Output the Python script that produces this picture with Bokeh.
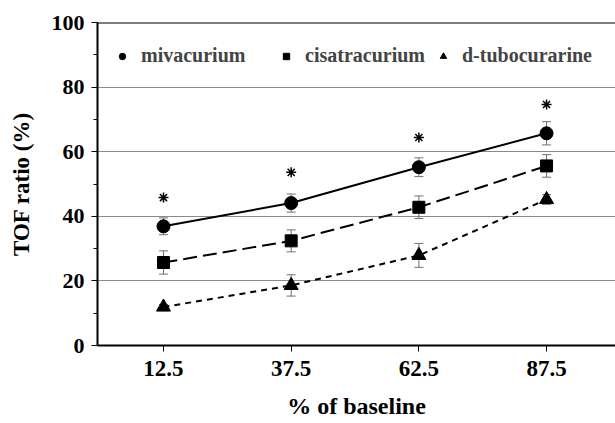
from bokeh.plotting import figure
from bokeh.models import (ColumnDataSource, Whisker, FixedTicker, Range1d, Legend,
                          LegendItem, Span)
from bokeh.embed import file_html
from bokeh.resources import INLINE

x_vals = [12.5, 37.5, 62.5, 87.5]
x_labels = ["12.5", "37.5", "62.5", "87.5"]

miv = [36.9, 44.1, 55.2, 65.7]
miv_err = [2.6, 2.8, 2.9, 3.6]
cis = [25.7, 32.4, 42.8, 55.6]
cis_err = [3.6, 3.4, 3.5, 3.5]
dtc = [11.9, 18.6, 27.9, 45.2]
dtc_err = [0.8, 3.3, 3.7, 1.5]
star_y = [45.8, 53.6, 64.4, 74.6]
series_names = ["mivacurium", "cisatracurium", "d-tubocurarine"]

FONT = "Liberation Serif"

p = figure(width=615, height=423, output_backend="svg", toolbar_location=None,
           x_range=Range1d(-0.42, 101.0), y_range=Range1d(0, 100),
           min_border_left=97, min_border_top=22, min_border_bottom=78,
           min_border_right=0)
p.outline_line_color = None
p.background_fill_color = "white"
p.border_fill_color = "white"

p.xgrid.grid_line_color = None
p.ygrid.ticker = FixedTicker(ticks=[20, 40, 60, 80])
p.ygrid.grid_line_color = "#8a8a8a"
p.ygrid.grid_line_width = 1

p.add_layout(Span(location=100, dimension="width", line_color="black", line_width=2))

p.xaxis.ticker = FixedTicker(ticks=x_vals)
p.xaxis.major_label_overrides = {v: l for v, l in zip(x_vals, x_labels)}
p.yaxis.ticker = FixedTicker(ticks=[0, 20, 40, 60, 80, 100],
                             minor_ticks=[10, 30, 50, 70, 90])
for ax in (p.xaxis, p.yaxis):
    ax.axis_line_width = 2
    ax.axis_line_color = "black"
    ax.major_tick_line_color = "black"
    ax.major_tick_in = 0
    ax.major_tick_out = 6
    ax.minor_tick_in = 0
    ax.minor_tick_out = 4
    ax.major_label_text_font = FONT
    ax.major_label_text_font_style = "bold"
    ax.major_label_text_color = "black"
    ax.axis_label_text_font = FONT
    ax.axis_label_text_font_style = "bold"
    ax.axis_label_text_color = "black"
p.xaxis.major_label_text_font_size = "23px"
p.yaxis.major_label_text_font_size = "22px"
p.xaxis.axis_label_text_font_size = "24px"
p.yaxis.axis_label_text_font_size = "23px"
p.xaxis.minor_tick_line_color = None
p.xaxis.major_label_standoff = 9
p.xaxis.axis_label = "% of baseline"
p.xaxis.axis_label_standoff = 14
p.yaxis.major_label_standoff = 7
p.yaxis.axis_label = "TOF ratio (%)"
p.yaxis.axis_label_standoff = 15

src = ColumnDataSource(dict(x=x_vals, miv=miv, cis=cis, dtc=dtc, star=star_y,
                            miv_lo=[v - e for v, e in zip(miv, miv_err)],
                            miv_hi=[v + e for v, e in zip(miv, miv_err)],
                            cis_lo=[v - e for v, e in zip(cis, cis_err)],
                            cis_hi=[v + e for v, e in zip(cis, cis_err)],
                            dtc_lo=[v - e for v, e in zip(dtc, dtc_err)],
                            dtc_hi=[v + e for v, e in zip(dtc, dtc_err)]))

for k in ("miv", "cis", "dtc"):
    w = Whisker(source=src, base="x", lower=k + "_lo", upper=k + "_hi",
                line_color="#707070", line_width=1)
    w.upper_head.size = 9
    w.lower_head.size = 9
    w.upper_head.line_color = "#707070"
    w.lower_head.line_color = "#707070"
    p.add_layout(w)

p.line("x", "miv", source=src, line_color="black", line_width=2)
p.line("x", "cis", source=src, line_color="black", line_width=2, line_dash="14 6")
p.line("x", "dtc", source=src, line_color="black", line_width=2, line_dash="6 5")

r1 = p.scatter("x", "miv", source=src, marker="circle", size=13, color="black")
r2 = p.scatter("x", "cis", source=src, marker="square", size=12, color="black")
r3 = p.scatter("x", "dtc", source=src, marker="triangle", size=14, color="black")

p.scatter("x", "star", source=src, marker="asterisk", size=10, line_color="black",
          line_width=1.5)

for name, r, xoff in zip(series_names, [r1, r2, r3], [17, 181, 338]):
    lg = Legend(items=[LegendItem(label=name, renderers=[r])],
                location=(xoff, 278),
                border_line_color=None, background_fill_alpha=0,
                label_text_font=FONT, label_text_font_style="bold",
                label_text_font_size="20px", glyph_width=16, glyph_height=16,
                label_standoff=11, padding=0, margin=0)
    p.add_layout(lg)

open("out.html", "w").write(file_html(p, INLINE))
